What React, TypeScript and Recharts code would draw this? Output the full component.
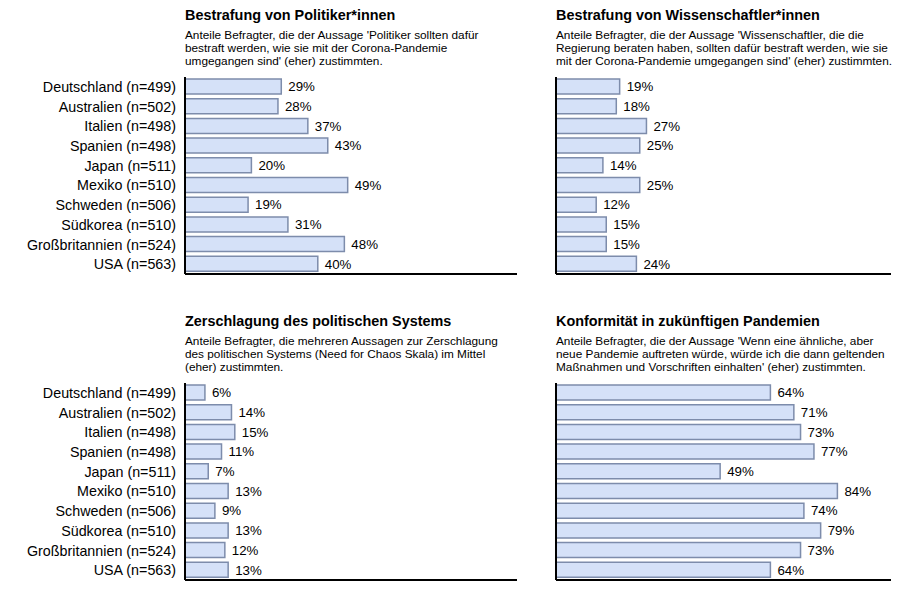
import React from 'react'
import { Bar, BarChart, LabelList, XAxis, YAxis } from 'recharts'

// Länder mit Stichprobengröße (Reihenfolge wie im Original)
const countries = [
  'Deutschland (n=499)',
  'Australien (n=502)',
  'Italien (n=498)',
  'Spanien (n=498)',
  'Japan (n=511)',
  'Mexiko (n=510)',
  'Schweden (n=506)',
  'Südkorea (n=510)',
  'Großbritannien (n=524)',
  'USA (n=563)',
]

const politikerValues       = [29, 28, 37, 43, 20, 49, 19, 31, 48, 40]
const wissenschaftlerValues = [19, 18, 27, 25, 14, 25, 12, 15, 15, 24]
const chaosValues           = [6, 14, 15, 11, 7, 13, 9, 13, 12, 13]
const konformitaetValues    = [64, 71, 73, 77, 49, 84, 74, 79, 73, 64]

const FONT = '"Liberation Sans", Arial, sans-serif'
const BAR_FILL   = '#d5e1f8'
const BAR_STROKE = '#7d8cab'

interface PanelProps {
  title:      string
  subtitle:   string[]
  values:     number[]
  left:       number
  top:        number
  showLabels: boolean
}

function Panel({ title, subtitle, values, left, top, showLabels }: PanelProps) {
  const data = countries.map((country, i) => ({ country, value: values[i] }))

  // plot area: starts at x=185 (left panels) or x=556 (right panels)
  const axisW  = showLabels ? 185 : 16
  const chartW = showLabels ? 530 : 360
  const textX  = showLabels ? 185 : 16

  return (
    <div style={{ position: 'absolute', left, top, width: chartW, height: 300 }}>
      {/* Title */}
      <div style={{
        position: 'absolute', left: textX, top: 7,
        fontSize: 14.4, fontWeight: 'bold', lineHeight: '17px', whiteSpace: 'nowrap',
      }}>
        {title}
      </div>

      {/* Subtitle */}
      <div style={{
        position: 'absolute', left: textX, top: 28.5,
        fontSize: 11.8, lineHeight: '13.3px', whiteSpace: 'nowrap',
      }}>
        {subtitle.map((line, i) => <div key={i}>{line}</div>)}
      </div>

      <div style={{ position: 'absolute', left: 0, top: 77 }}>
        <BarChart
          width={chartW}
          height={199}
          data={data}
          layout="vertical"
          margin={{ top: 0, right: showLabels ? 13 : 9, left: 0, bottom: 0 }}
        >
          <XAxis
            type="number"
            domain={[0, 100]}
            tick={false}
            tickLine={false}
            height={2}
            axisLine={{ stroke: '#000', strokeWidth: 2 }}
          />
          <YAxis
            type="category"
            dataKey="country"
            width={axisW}
            tick={showLabels ? { fontSize: 14.3, fill: '#000', fontFamily: FONT } : false}
            tickLine={false}
            tickMargin={3}
            interval={0}
            axisLine={{ stroke: '#000', strokeWidth: 2 }}
          />
          <Bar
            dataKey="value"
            barSize={15}
            fill={BAR_FILL}
            stroke={BAR_STROKE}
            strokeWidth={1.5}
            isAnimationActive={false}
          >
            <LabelList
              dataKey="value"
              position="right"
              offset={7}
              formatter={(v: number) => `${v}%`}
              style={{ fontSize: 13.3, fill: '#000', fontFamily: FONT }}
            />
          </Bar>
        </BarChart>
      </div>
    </div>
  )
}

export default function App() {
  return (
    <div style={{
      position: 'absolute', left: 0, top: 0, width: 900, height: 612,
      background: '#fff', fontFamily: FONT, color: '#000',
    }}>
      <Panel
        title="Bestrafung von Politiker*innen"
        subtitle={[
          "Anteile Befragter, die der Aussage 'Politiker sollten dafür",
          'bestraft werden, wie sie mit der Corona-Pandemie',
          "umgegangen sind' (eher) zustimmten.",
        ]}
        values={politikerValues}
        left={0}
        top={0}
        showLabels
      />
      <Panel
        title="Bestrafung von Wissenschaftler*innen"
        subtitle={[
          "Anteile Befragter, die der Aussage 'Wissenschaftler, die die",
          'Regierung beraten haben, sollten dafür bestraft werden, wie sie',
          "mit der Corona-Pandemie umgegangen sind' (eher) zustimmten.",
        ]}
        values={wissenschaftlerValues}
        left={540}
        top={0}
        showLabels={false}
      />
      <Panel
        title="Zerschlagung des politischen Systems"
        subtitle={[
          'Anteile Befragter, die mehreren Aussagen zur Zerschlagung',
          'des politischen Systems (Need for Chaos Skala) im Mittel',
          '(eher) zustimmten.',
        ]}
        values={chaosValues}
        left={0}
        top={306}
        showLabels
      />
      <Panel
        title="Konformität in zukünftigen Pandemien"
        subtitle={[
          "Anteile Befragter, die der Aussage 'Wenn eine ähnliche, aber",
          'neue Pandemie auftreten würde, würde ich die dann geltenden',
          "Maßnahmen und Vorschriften einhalten' (eher) zustimmten.",
        ]}
        values={konformitaetValues}
        left={540}
        top={306}
        showLabels={false}
      />
    </div>
  )
}
